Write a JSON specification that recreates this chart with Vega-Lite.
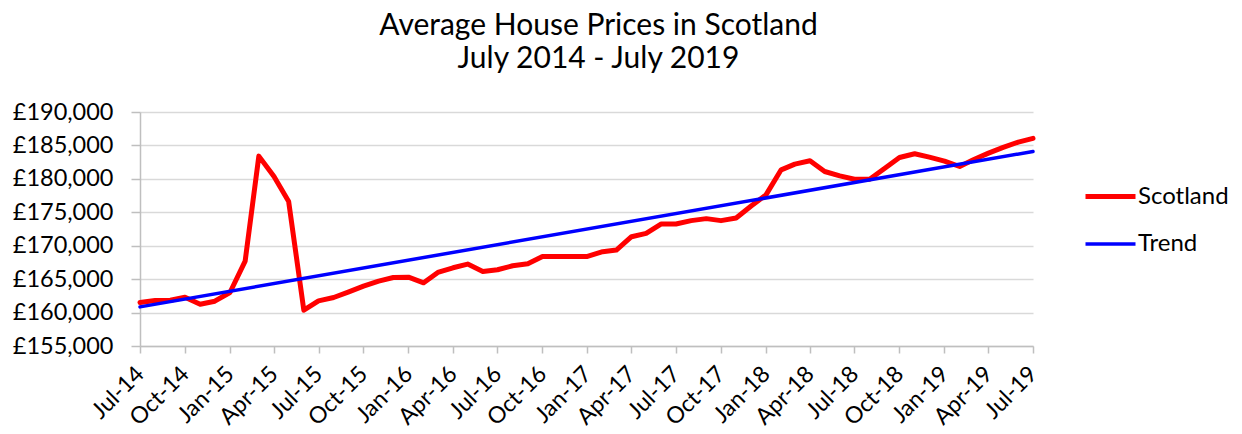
{
  "$schema": "https://vega.github.io/schema/vega-lite/v6.json",
  "width": 893,
  "height": 234,
  "autosize": {"type": "none"},
  "padding": {"left": 140, "top": 112, "right": 209, "bottom": 88},
  "background": "white",
  "config": {"view": {"stroke": null}, "font": "Lato"},
  "title": {
    "text": ["Average House Prices in Scotland", "July 2014 - July 2019"],
    "fontSize": 30,
    "font": "Lato",
    "fontWeight": "normal",
    "color": "black",
    "anchor": "middle",
    "lineHeight": 33,
    "offset": 26,
    "dx": 12
  },
  "data": {
    "values": [
      {"date": "2014/07/01", "series": "Scotland", "price": 161500},
      {"date": "2014/08/01", "series": "Scotland", "price": 161800},
      {"date": "2014/09/01", "series": "Scotland", "price": 161850},
      {"date": "2014/10/01", "series": "Scotland", "price": 162300},
      {"date": "2014/11/01", "series": "Scotland", "price": 161250},
      {"date": "2014/12/01", "series": "Scotland", "price": 161700},
      {"date": "2015/01/01", "series": "Scotland", "price": 163000},
      {"date": "2015/02/01", "series": "Scotland", "price": 167700},
      {"date": "2015/03/01", "series": "Scotland", "price": 183400},
      {"date": "2015/04/01", "series": "Scotland", "price": 180350},
      {"date": "2015/05/01", "series": "Scotland", "price": 176600},
      {"date": "2015/06/01", "series": "Scotland", "price": 160350},
      {"date": "2015/07/01", "series": "Scotland", "price": 161750},
      {"date": "2015/08/01", "series": "Scotland", "price": 162250},
      {"date": "2015/09/01", "series": "Scotland", "price": 163100},
      {"date": "2015/10/01", "series": "Scotland", "price": 163950},
      {"date": "2015/11/01", "series": "Scotland", "price": 164700},
      {"date": "2015/12/01", "series": "Scotland", "price": 165250},
      {"date": "2016/01/01", "series": "Scotland", "price": 165300},
      {"date": "2016/02/01", "series": "Scotland", "price": 164450},
      {"date": "2016/03/01", "series": "Scotland", "price": 166000},
      {"date": "2016/04/01", "series": "Scotland", "price": 166700},
      {"date": "2016/05/01", "series": "Scotland", "price": 167250},
      {"date": "2016/06/01", "series": "Scotland", "price": 166150},
      {"date": "2016/07/01", "series": "Scotland", "price": 166400},
      {"date": "2016/08/01", "series": "Scotland", "price": 167000},
      {"date": "2016/09/01", "series": "Scotland", "price": 167300},
      {"date": "2016/10/01", "series": "Scotland", "price": 168400},
      {"date": "2016/11/01", "series": "Scotland", "price": 168400},
      {"date": "2016/12/01", "series": "Scotland", "price": 168400},
      {"date": "2017/01/01", "series": "Scotland", "price": 168400},
      {"date": "2017/02/01", "series": "Scotland", "price": 169100},
      {"date": "2017/03/01", "series": "Scotland", "price": 169350},
      {"date": "2017/04/01", "series": "Scotland", "price": 171350},
      {"date": "2017/05/01", "series": "Scotland", "price": 171850},
      {"date": "2017/06/01", "series": "Scotland", "price": 173250},
      {"date": "2017/07/01", "series": "Scotland", "price": 173250},
      {"date": "2017/08/01", "series": "Scotland", "price": 173750},
      {"date": "2017/09/01", "series": "Scotland", "price": 174050},
      {"date": "2017/10/01", "series": "Scotland", "price": 173750},
      {"date": "2017/11/01", "series": "Scotland", "price": 174150},
      {"date": "2017/12/01", "series": "Scotland", "price": 175900},
      {"date": "2018/01/01", "series": "Scotland", "price": 177600},
      {"date": "2018/02/01", "series": "Scotland", "price": 181350},
      {"date": "2018/03/01", "series": "Scotland", "price": 182200},
      {"date": "2018/04/01", "series": "Scotland", "price": 182700},
      {"date": "2018/05/01", "series": "Scotland", "price": 181100},
      {"date": "2018/06/01", "series": "Scotland", "price": 180450},
      {"date": "2018/07/01", "series": "Scotland", "price": 179950},
      {"date": "2018/08/01", "series": "Scotland", "price": 179950},
      {"date": "2018/09/01", "series": "Scotland", "price": 181600},
      {"date": "2018/10/01", "series": "Scotland", "price": 183200},
      {"date": "2018/11/01", "series": "Scotland", "price": 183750},
      {"date": "2018/12/01", "series": "Scotland", "price": 183250},
      {"date": "2019/01/01", "series": "Scotland", "price": 182650},
      {"date": "2019/02/01", "series": "Scotland", "price": 181850},
      {"date": "2019/03/01", "series": "Scotland", "price": 182850},
      {"date": "2019/04/01", "series": "Scotland", "price": 183850},
      {"date": "2019/05/01", "series": "Scotland", "price": 184700},
      {"date": "2019/06/01", "series": "Scotland", "price": 185500},
      {"date": "2019/07/01", "series": "Scotland", "price": 186050},
      {"date": "2014/07/01", "series": "Trend", "price": 160850},
      {"date": "2019/07/01", "series": "Trend", "price": 184100}
    ]
  },
  "mark": {"type": "line", "strokeJoin": "round", "strokeCap": "round"},
  "encoding": {
    "x": {
      "field": "date",
      "type": "temporal",
      "scale": {
        "domain": [{"year": 2014, "month": "jul", "date": 1}, {"year": 2019, "month": "jul", "date": 1}],
        "nice": false
      },
      "axis": {
        "title": null,
        "grid": false,
        "format": "%b-%y",
        "values": [
          {"year": 2014, "month": "jul", "date": 1}, {"year": 2014, "month": "oct", "date": 1},
          {"year": 2015, "month": "jan", "date": 1}, {"year": 2015, "month": "apr", "date": 1},
          {"year": 2015, "month": "jul", "date": 1}, {"year": 2015, "month": "oct", "date": 1},
          {"year": 2016, "month": "jan", "date": 1}, {"year": 2016, "month": "apr", "date": 1},
          {"year": 2016, "month": "jul", "date": 1}, {"year": 2016, "month": "oct", "date": 1},
          {"year": 2017, "month": "jan", "date": 1}, {"year": 2017, "month": "apr", "date": 1},
          {"year": 2017, "month": "jul", "date": 1}, {"year": 2017, "month": "oct", "date": 1},
          {"year": 2018, "month": "jan", "date": 1}, {"year": 2018, "month": "apr", "date": 1},
          {"year": 2018, "month": "jul", "date": 1}, {"year": 2018, "month": "oct", "date": 1},
          {"year": 2019, "month": "jan", "date": 1}, {"year": 2019, "month": "apr", "date": 1},
          {"year": 2019, "month": "jul", "date": 1}
        ],
        "labelAngle": -45,
        "labelAlign": "right",
        "labelBaseline": "middle",
        "labelFontSize": 23,
        "labelFont": "Lato",
        "labelColor": "black",
        "labelPadding": 17,
        "labelOverlap": false,
        "labelFlush": false,
        "tickSize": 7,
        "tickColor": "#bfbfbf",
        "tickWidth": 1.5,
        "domainColor": "#bfbfbf",
        "domainWidth": 1.5
      }
    },
    "y": {
      "field": "price",
      "type": "quantitative",
      "scale": {"domain": [155000, 190000], "nice": false, "zero": false},
      "axis": {
        "title": null,
        "values": [155000, 160000, 165000, 170000, 175000, 180000, 185000, 190000],
        "labelExpr": "'£' + format(datum.value, ',')",
        "labelFontSize": 23.5,
        "labelFont": "Lato",
        "labelColor": "black",
        "labelPadding": 18,
        "tickSize": 9,
        "tickColor": "#bfbfbf",
        "tickWidth": 1.5,
        "domainColor": "#bfbfbf",
        "domainWidth": 1.5,
        "gridColor": "#d9d9d9",
        "gridWidth": 1.5
      }
    },
    "color": {
      "field": "series",
      "type": "nominal",
      "scale": {"domain": ["Scotland", "Trend"], "range": ["#ff0000", "#0000ff"]},
      "legend": {
        "title": null,
        "orient": "none",
        "legendX": 958,
        "legendY": 72,
        "direction": "vertical",
        "symbolType": "M-2.5,0H2.5",
        "symbolSize": 400,
        "symbolStrokeWidth": 5,
        "labelFontSize": 24,
        "labelFont": "Lato",
        "labelColor": "black",
        "labelOffset": 15,
        "rowPadding": 23,
        "padding": 0,
        "encode": {
          "symbols": {"update": {"strokeWidth": {"signal": "datum.value === 'Scotland' ? 5 : 3.5"}}}
        }
      }
    },
    "strokeWidth": {
      "field": "series",
      "type": "nominal",
      "scale": {"domain": ["Scotland", "Trend"], "range": [5, 3.5]},
      "legend": null
    }
  }
}
